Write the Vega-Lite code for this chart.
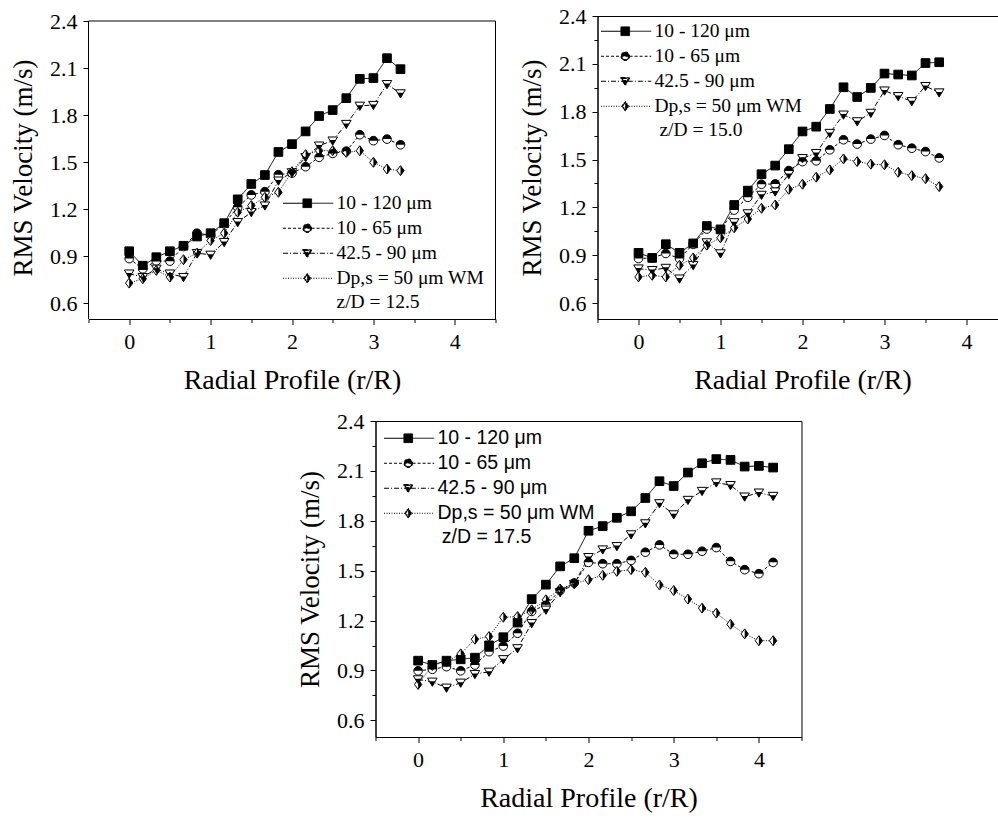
{
"$schema": "https://vega.github.io/schema/vega-lite/v6.json",
"background": "white",
"padding": {"left": 9.5, "top": 4, "right": 0, "bottom": 0},
"datasets": {
"d1": [
{"s":"10 - 120 μm","x":0,"v":0.932},{"s":"10 - 120 μm","x":0.167,"v":0.84},{"s":"10 - 120 μm","x":0.333,"v":0.894},{"s":"10 - 120 μm","x":0.5,"v":0.932},{"s":"10 - 120 μm","x":0.667,"v":0.967},{"s":"10 - 120 μm","x":0.833,"v":1.026},{"s":"10 - 120 μm","x":1,"v":1.047},{"s":"10 - 120 μm","x":1.167,"v":1.111},{"s":"10 - 120 μm","x":1.333,"v":1.263},{"s":"10 - 120 μm","x":1.5,"v":1.361},{"s":"10 - 120 μm","x":1.667,"v":1.418},{"s":"10 - 120 μm","x":1.833,"v":1.565},{"s":"10 - 120 μm","x":2,"v":1.615},{"s":"10 - 120 μm","x":2.167,"v":1.696},{"s":"10 - 120 μm","x":2.333,"v":1.794},{"s":"10 - 120 μm","x":2.5,"v":1.832},{"s":"10 - 120 μm","x":2.667,"v":1.908},{"s":"10 - 120 μm","x":2.833,"v":2.031},{"s":"10 - 120 μm","x":3,"v":2.036},{"s":"10 - 120 μm","x":3.167,"v":2.163},{"s":"10 - 120 μm","x":3.333,"v":2.093},
{"s":"10 - 65 μm","x":0,"v":0.885},{"s":"10 - 65 μm","x":0.167,"v":0.82},{"s":"10 - 65 μm","x":0.333,"v":0.87},{"s":"10 - 65 μm","x":0.5,"v":0.869},{"s":"10 - 65 μm","x":0.667,"v":0.962},{"s":"10 - 65 μm","x":0.833,"v":1.047},{"s":"10 - 65 μm","x":1,"v":1.035},{"s":"10 - 65 μm","x":1.167,"v":1.107},{"s":"10 - 65 μm","x":1.333,"v":1.213},{"s":"10 - 65 μm","x":1.5,"v":1.291},{"s":"10 - 65 μm","x":1.667,"v":1.312},{"s":"10 - 65 μm","x":1.833,"v":1.42},{"s":"10 - 65 μm","x":2,"v":1.43},{"s":"10 - 65 μm","x":2.167,"v":1.471},{"s":"10 - 65 μm","x":2.333,"v":1.531},{"s":"10 - 65 μm","x":2.5,"v":1.556},{"s":"10 - 65 μm","x":2.667,"v":1.57},{"s":"10 - 65 μm","x":2.833,"v":1.675},{"s":"10 - 65 μm","x":3,"v":1.637},{"s":"10 - 65 μm","x":3.167,"v":1.647},{"s":"10 - 65 μm","x":3.333,"v":1.611},
{"s":"42.5 - 90 μm","x":0,"v":0.789},{"s":"42.5 - 90 μm","x":0.167,"v":0.767},{"s":"42.5 - 90 μm","x":0.333,"v":0.82},{"s":"42.5 - 90 μm","x":0.5,"v":0.789},{"s":"42.5 - 90 μm","x":0.667,"v":0.767},{"s":"42.5 - 90 μm","x":0.833,"v":0.92},{"s":"42.5 - 90 μm","x":1,"v":0.909},{"s":"42.5 - 90 μm","x":1.167,"v":0.99},{"s":"42.5 - 90 μm","x":1.333,"v":1.117},{"s":"42.5 - 90 μm","x":1.5,"v":1.181},{"s":"42.5 - 90 μm","x":1.667,"v":1.223},{"s":"42.5 - 90 μm","x":1.833,"v":1.382},{"s":"42.5 - 90 μm","x":2,"v":1.435},{"s":"42.5 - 90 μm","x":2.167,"v":1.531},{"s":"42.5 - 90 μm","x":2.333,"v":1.605},{"s":"42.5 - 90 μm","x":2.5,"v":1.637},{"s":"42.5 - 90 μm","x":2.667,"v":1.743},{"s":"42.5 - 90 μm","x":2.833,"v":1.859},{"s":"42.5 - 90 μm","x":3,"v":1.864},{"s":"42.5 - 90 μm","x":3.167,"v":1.997},{"s":"42.5 - 90 μm","x":3.333,"v":1.938},
{"s":"Dp,s = 50 μm WM","x":0,"v":0.729},{"s":"Dp,s = 50 μm WM","x":0.167,"v":0.757},{"s":"Dp,s = 50 μm WM","x":0.333,"v":0.81},{"s":"Dp,s = 50 μm WM","x":0.5,"v":0.767},{"s":"Dp,s = 50 μm WM","x":0.667,"v":0.878},{"s":"Dp,s = 50 μm WM","x":0.833,"v":0.92},{"s":"Dp,s = 50 μm WM","x":1,"v":1.0},{"s":"Dp,s = 50 μm WM","x":1.167,"v":1.047},{"s":"Dp,s = 50 μm WM","x":1.333,"v":1.181},{"s":"Dp,s = 50 μm WM","x":1.5,"v":1.223},{"s":"Dp,s = 50 μm WM","x":1.667,"v":1.276},{"s":"Dp,s = 50 μm WM","x":1.833,"v":1.308},{"s":"Dp,s = 50 μm WM","x":2,"v":1.439},{"s":"Dp,s = 50 μm WM","x":2.167,"v":1.548},{"s":"Dp,s = 50 μm WM","x":2.333,"v":1.573},{"s":"Dp,s = 50 μm WM","x":2.5,"v":1.573},{"s":"Dp,s = 50 μm WM","x":2.667,"v":1.562},{"s":"Dp,s = 50 μm WM","x":2.833,"v":1.573},{"s":"Dp,s = 50 μm WM","x":3,"v":1.499},{"s":"Dp,s = 50 μm WM","x":3.167,"v":1.456},{"s":"Dp,s = 50 μm WM","x":3.333,"v":1.446}
],
"d2": [
{"s":"10 - 120 μm","x":0,"v":0.915},{"s":"10 - 120 μm","x":0.167,"v":0.883},{"s":"10 - 120 μm","x":0.333,"v":0.969},{"s":"10 - 120 μm","x":0.5,"v":0.915},{"s":"10 - 120 μm","x":0.667,"v":0.974},{"s":"10 - 120 μm","x":0.833,"v":1.083},{"s":"10 - 120 μm","x":1,"v":1.062},{"s":"10 - 120 μm","x":1.167,"v":1.215},{"s":"10 - 120 μm","x":1.333,"v":1.305},{"s":"10 - 120 μm","x":1.5,"v":1.408},{"s":"10 - 120 μm","x":1.667,"v":1.462},{"s":"10 - 120 μm","x":1.833,"v":1.565},{"s":"10 - 120 μm","x":2,"v":1.676},{"s":"10 - 120 μm","x":2.167,"v":1.706},{"s":"10 - 120 μm","x":2.333,"v":1.817},{"s":"10 - 120 μm","x":2.5,"v":1.953},{"s":"10 - 120 μm","x":2.667,"v":1.892},{"s":"10 - 120 μm","x":2.833,"v":1.949},{"s":"10 - 120 μm","x":3,"v":2.039},{"s":"10 - 120 μm","x":3.167,"v":2.033},{"s":"10 - 120 μm","x":3.333,"v":2.027},{"s":"10 - 120 μm","x":3.5,"v":2.105},{"s":"10 - 120 μm","x":3.667,"v":2.11},
{"s":"10 - 65 μm","x":0,"v":0.879},{"s":"10 - 65 μm","x":0.167,"v":0.883},{"s":"10 - 65 μm","x":0.333,"v":0.911},{"s":"10 - 65 μm","x":0.5,"v":0.879},{"s":"10 - 65 μm","x":0.667,"v":0.969},{"s":"10 - 65 μm","x":0.833,"v":1.064},{"s":"10 - 65 μm","x":1,"v":1.058},{"s":"10 - 65 μm","x":1.167,"v":1.183},{"s":"10 - 65 μm","x":1.333,"v":1.263},{"s":"10 - 65 μm","x":1.5,"v":1.345},{"s":"10 - 65 μm","x":1.667,"v":1.347},{"s":"10 - 65 μm","x":1.833,"v":1.431},{"s":"10 - 65 μm","x":2,"v":1.487},{"s":"10 - 65 μm","x":2.167,"v":1.492},{"s":"10 - 65 μm","x":2.333,"v":1.561},{"s":"10 - 65 μm","x":2.5,"v":1.624},{"s":"10 - 65 μm","x":2.667,"v":1.597},{"s":"10 - 65 μm","x":2.833,"v":1.628},{"s":"10 - 65 μm","x":3,"v":1.651},{"s":"10 - 65 μm","x":3.167,"v":1.593},{"s":"10 - 65 μm","x":3.333,"v":1.571},{"s":"10 - 65 μm","x":3.5,"v":1.55},{"s":"10 - 65 μm","x":3.667,"v":1.51},
{"s":"42.5 - 90 μm","x":0,"v":0.816},{"s":"42.5 - 90 μm","x":0.167,"v":0.806},{"s":"42.5 - 90 μm","x":0.333,"v":0.82},{"s":"42.5 - 90 μm","x":0.5,"v":0.753},{"s":"42.5 - 90 μm","x":0.667,"v":0.837},{"s":"42.5 - 90 μm","x":0.833,"v":0.98},{"s":"42.5 - 90 μm","x":1,"v":0.911},{"s":"42.5 - 90 μm","x":1.167,"v":1.106},{"s":"42.5 - 90 μm","x":1.333,"v":1.162},{"s":"42.5 - 90 μm","x":1.5,"v":1.278},{"s":"42.5 - 90 μm","x":1.667,"v":1.299},{"s":"42.5 - 90 μm","x":1.833,"v":1.408},{"s":"42.5 - 90 μm","x":2,"v":1.508},{"s":"42.5 - 90 μm","x":2.167,"v":1.54},{"s":"42.5 - 90 μm","x":2.333,"v":1.666},{"s":"42.5 - 90 μm","x":2.5,"v":1.781},{"s":"42.5 - 90 μm","x":2.667,"v":1.739},{"s":"42.5 - 90 μm","x":2.833,"v":1.792},{"s":"42.5 - 90 μm","x":3,"v":1.932},{"s":"42.5 - 90 μm","x":3.167,"v":1.897},{"s":"42.5 - 90 μm","x":3.333,"v":1.865},{"s":"42.5 - 90 μm","x":3.5,"v":1.96},{"s":"42.5 - 90 μm","x":3.667,"v":1.92},
{"s":"Dp,s = 50 μm WM","x":0,"v":0.764},{"s":"Dp,s = 50 μm WM","x":0.167,"v":0.774},{"s":"Dp,s = 50 μm WM","x":0.333,"v":0.764},{"s":"Dp,s = 50 μm WM","x":0.5,"v":0.837},{"s":"Dp,s = 50 μm WM","x":0.667,"v":0.883},{"s":"Dp,s = 50 μm WM","x":0.833,"v":0.963},{"s":"Dp,s = 50 μm WM","x":1,"v":1.009},{"s":"Dp,s = 50 μm WM","x":1.167,"v":1.072},{"s":"Dp,s = 50 μm WM","x":1.333,"v":1.127},{"s":"Dp,s = 50 μm WM","x":1.5,"v":1.194},{"s":"Dp,s = 50 μm WM","x":1.667,"v":1.215},{"s":"Dp,s = 50 μm WM","x":1.833,"v":1.313},{"s":"Dp,s = 50 μm WM","x":2,"v":1.345},{"s":"Dp,s = 50 μm WM","x":2.167,"v":1.389},{"s":"Dp,s = 50 μm WM","x":2.333,"v":1.435},{"s":"Dp,s = 50 μm WM","x":2.5,"v":1.504},{"s":"Dp,s = 50 μm WM","x":2.667,"v":1.487},{"s":"Dp,s = 50 μm WM","x":2.833,"v":1.471},{"s":"Dp,s = 50 μm WM","x":3,"v":1.467},{"s":"Dp,s = 50 μm WM","x":3.167,"v":1.42},{"s":"Dp,s = 50 μm WM","x":3.333,"v":1.399},{"s":"Dp,s = 50 μm WM","x":3.5,"v":1.38},{"s":"Dp,s = 50 μm WM","x":3.667,"v":1.33}
],
"d3": [
{"s":"10 - 120 μm","x":0,"v":0.959},{"s":"10 - 120 μm","x":0.167,"v":0.933},{"s":"10 - 120 μm","x":0.333,"v":0.959},{"s":"10 - 120 μm","x":0.5,"v":0.967},{"s":"10 - 120 μm","x":0.667,"v":0.977},{"s":"10 - 120 μm","x":0.833,"v":1.051},{"s":"10 - 120 μm","x":1,"v":1.1},{"s":"10 - 120 μm","x":1.167,"v":1.188},{"s":"10 - 120 μm","x":1.333,"v":1.329},{"s":"10 - 120 μm","x":1.5,"v":1.416},{"s":"10 - 120 μm","x":1.667,"v":1.526},{"s":"10 - 120 μm","x":1.833,"v":1.575},{"s":"10 - 120 μm","x":2,"v":1.74},{"s":"10 - 120 μm","x":2.167,"v":1.768},{"s":"10 - 120 μm","x":2.333,"v":1.818},{"s":"10 - 120 μm","x":2.5,"v":1.857},{"s":"10 - 120 μm","x":2.667,"v":1.937},{"s":"10 - 120 μm","x":2.833,"v":2.038},{"s":"10 - 120 μm","x":3,"v":2.009},{"s":"10 - 120 μm","x":3.167,"v":2.09},{"s":"10 - 120 μm","x":3.333,"v":2.146},{"s":"10 - 120 μm","x":3.5,"v":2.171},{"s":"10 - 120 μm","x":3.667,"v":2.166},{"s":"10 - 120 μm","x":3.833,"v":2.126},{"s":"10 - 120 μm","x":4,"v":2.13},{"s":"10 - 120 μm","x":4.167,"v":2.12},
{"s":"10 - 65 μm","x":0,"v":0.898},{"s":"10 - 65 μm","x":0.167,"v":0.907},{"s":"10 - 65 μm","x":0.333,"v":0.923},{"s":"10 - 65 μm","x":0.5,"v":0.898},{"s":"10 - 65 μm","x":0.667,"v":0.933},{"s":"10 - 65 μm","x":0.833,"v":1.013},{"s":"10 - 65 μm","x":1,"v":1.047},{"s":"10 - 65 μm","x":1.167,"v":1.124},{"s":"10 - 65 μm","x":1.333,"v":1.255},{"s":"10 - 65 μm","x":1.5,"v":1.295},{"s":"10 - 65 μm","x":1.667,"v":1.381},{"s":"10 - 65 μm","x":1.833,"v":1.426},{"s":"10 - 65 μm","x":2,"v":1.55},{"s":"10 - 65 μm","x":2.167,"v":1.542},{"s":"10 - 65 μm","x":2.333,"v":1.542},{"s":"10 - 65 μm","x":2.5,"v":1.562},{"s":"10 - 65 μm","x":2.667,"v":1.611},{"s":"10 - 65 μm","x":2.833,"v":1.655},{"s":"10 - 65 μm","x":3,"v":1.599},{"s":"10 - 65 μm","x":3.167,"v":1.599},{"s":"10 - 65 μm","x":3.333,"v":1.617},{"s":"10 - 65 μm","x":3.5,"v":1.639},{"s":"10 - 65 μm","x":3.667,"v":1.556},{"s":"10 - 65 μm","x":3.833,"v":1.506},{"s":"10 - 65 μm","x":4,"v":1.482},{"s":"10 - 65 μm","x":4.167,"v":1.55},
{"s":"42.5 - 90 μm","x":0,"v":0.846},{"s":"42.5 - 90 μm","x":0.167,"v":0.832},{"s":"42.5 - 90 μm","x":0.333,"v":0.796},{"s":"42.5 - 90 μm","x":0.5,"v":0.826},{"s":"42.5 - 90 μm","x":0.667,"v":0.878},{"s":"42.5 - 90 μm","x":0.833,"v":0.892},{"s":"42.5 - 90 μm","x":1,"v":0.967},{"s":"42.5 - 90 μm","x":1.167,"v":1.033},{"s":"42.5 - 90 μm","x":1.333,"v":1.184},{"s":"42.5 - 90 μm","x":1.5,"v":1.265},{"s":"42.5 - 90 μm","x":1.667,"v":1.37},{"s":"42.5 - 90 μm","x":1.833,"v":1.42},{"s":"42.5 - 90 μm","x":2,"v":1.581},{"s":"42.5 - 90 μm","x":2.167,"v":1.627},{"s":"42.5 - 90 μm","x":2.333,"v":1.647},{"s":"42.5 - 90 μm","x":2.5,"v":1.718},{"s":"42.5 - 90 μm","x":2.667,"v":1.784},{"s":"42.5 - 90 μm","x":2.833,"v":1.905},{"s":"42.5 - 90 μm","x":3,"v":1.838},{"s":"42.5 - 90 μm","x":3.167,"v":1.925},{"s":"42.5 - 90 μm","x":3.333,"v":1.979},{"s":"42.5 - 90 μm","x":3.5,"v":2.03},{"s":"42.5 - 90 μm","x":3.667,"v":2.014},{"s":"42.5 - 90 μm","x":3.833,"v":1.945},{"s":"42.5 - 90 μm","x":4,"v":1.969},{"s":"42.5 - 90 μm","x":4.167,"v":1.949},
{"s":"Dp,s = 50 μm WM","x":0,"v":0.816},{"s":"Dp,s = 50 μm WM","x":0.167,"v":0.93},{"s":"Dp,s = 50 μm WM","x":0.333,"v":0.953},{"s":"Dp,s = 50 μm WM","x":0.5,"v":1.0},{"s":"Dp,s = 50 μm WM","x":0.667,"v":1.088},{"s":"Dp,s = 50 μm WM","x":0.833,"v":1.104},{"s":"Dp,s = 50 μm WM","x":1,"v":1.22},{"s":"Dp,s = 50 μm WM","x":1.167,"v":1.224},{"s":"Dp,s = 50 μm WM","x":1.333,"v":1.265},{"s":"Dp,s = 50 μm WM","x":1.5,"v":1.325},{"s":"Dp,s = 50 μm WM","x":1.667,"v":1.39},{"s":"Dp,s = 50 μm WM","x":1.833,"v":1.422},{"s":"Dp,s = 50 μm WM","x":2,"v":1.446},{"s":"Dp,s = 50 μm WM","x":2.167,"v":1.472},{"s":"Dp,s = 50 μm WM","x":2.333,"v":1.496},{"s":"Dp,s = 50 μm WM","x":2.5,"v":1.506},{"s":"Dp,s = 50 μm WM","x":2.667,"v":1.49},{"s":"Dp,s = 50 μm WM","x":2.833,"v":1.414},{"s":"Dp,s = 50 μm WM","x":3,"v":1.381},{"s":"Dp,s = 50 μm WM","x":3.167,"v":1.329},{"s":"Dp,s = 50 μm WM","x":3.333,"v":1.275},{"s":"Dp,s = 50 μm WM","x":3.5,"v":1.245},{"s":"Dp,s = 50 μm WM","x":3.667,"v":1.178},{"s":"Dp,s = 50 μm WM","x":3.833,"v":1.12},{"s":"Dp,s = 50 μm WM","x":4,"v":1.079},{"s":"Dp,s = 50 μm WM","x":4.167,"v":1.079}
],
"blank": [{"k": 0}]
},
"vconcat": [
{
"hconcat": [
{
"width": 407, "height": 303,
"view": {"stroke": null},
"data": {"name": "d1"},
"layer": [
{"data": {"values": [{"k": 0}]}, "mark": {"type": "rule", "color": "black", "strokeWidth": 1}, "encoding": {"x": {"datum": -0.5, "type": "quantitative"}, "x2": {"datum": 4.5}, "y": {"datum": 2.4, "type": "quantitative"}}},
{"data": {"values": [{"k": 0}]}, "mark": {"type": "rule", "color": "black", "strokeWidth": 1}, "encoding": {"x": {"datum": 4.5, "type": "quantitative"}, "y": {"datum": 0.5, "type": "quantitative"}, "y2": {"datum": 2.4}}},
{"data": {"values": [{"k": 0}]}, "mark": {"type": "rule", "color": "black", "strokeWidth": 1}, "encoding": {"x": {"datum": -0.5, "type": "quantitative"}, "y": {"datum": 0.5, "type": "quantitative"}, "y2": {"datum": 2.4}}},
{"mark": {"type": "line", "color": "black", "strokeWidth": 1}, "encoding": {
"x": {"field": "x", "type": "quantitative"}, "y": {"field": "v", "type": "quantitative"},
"strokeDash": {"field": "s", "type": "nominal", "scale": {"domain": ["10 - 120 μm","10 - 65 μm","42.5 - 90 μm","Dp,s = 50 μm WM"], "range": [[1,0],[3,2],[5,2,1,2],[1,1.5]]}, "legend": {"legendX": 209, "legendY": 177.5, "title": "\u200b\u00a0\u00a0\u00a0\u00a0\u00a0\u00a0\u00a0\u00a0z/D = 12.5", "symbolType": "M-5.6,0H6", "symbolStrokeColor": "black", "symbolStrokeWidth": 1,
"encode": {"symbols": {"update": {"fill": {"value": "black"}, "stroke": {"value": "black"}, "strokeWidth": {"value": 1}, "shape": {"signal": "datum.index === 0 ? 'M-5.6,0H-1M1,0H6M-1,-1H1V1H-1Z' : datum.index === 1 ? 'M-5.6,0H-1M1,0H6M1,0A1,1,0,1,1,-1,0A1,1,0,1,1,1,0ZM0.77,0L-0.77,0A0.77,0.77,0,0,0,0.77,0Z' : datum.index === 2 ? 'M-5.6,0H-0.6M0.6,0H6M-1.1,-0.85H1.1L0,1.05ZM-0.7,-0.62L-0.43,-0.15L0.43,-0.15L0.7,-0.62Z' : 'M-5.6,0H-0.85M0.85,0H6M0,-1.15L0.85,0L0,1.15L-0.85,0ZM0,-0.763L-0.564,0L0,0.763Z'"}}}}}}}},
{"mark": {"type": "point", "filled": true, "fill": "white", "stroke": "black", "strokeWidth": 1, "size": 75, "opacity": 1}, "encoding": {
"x": {"field": "x", "type": "quantitative"}, "y": {"field": "v", "type": "quantitative"},
"shape": {"field": "s", "type": "nominal", "scale": {"domain": ["Dp,s = 50 μm WM","42.5 - 90 μm","10 - 65 μm","10 - 120 μm"], "range": ["M0,-1.15L0.85,0L0,1.15L-0.85,0Z","M-1.1,-0.85H1.1L0,1.05Z","M1,0A1,1,0,1,1,-1,0A1,1,0,1,1,1,0Z","M-1,-1H1V1H-1Z"]}, "legend": null}}},
{"mark": {"type": "point", "filled": true, "fill": "black", "strokeWidth": 0, "size": 75, "opacity": 1}, "encoding": {
"x": {"field": "x", "type": "quantitative", "scale": {"domain": [-0.5, 4.5], "nice": false, "zero": false}, "axis": {"title": "Radial Profile (r/R)", "values": [-0.5,0,0.5,1,1.5,2,2.5,3,3.5,4,4.5], "labelExpr": "datum.value % 1 == 0 ? format(datum.value, 'd') : ''", "tickSize": {"condition": {"test": "datum.value % 1 != 0", "value": 3.5}, "value": 5.5}}},
"y": {"field": "v", "type": "quantitative", "scale": {"domain": [0.5, 2.4319], "nice": false, "zero": false}, "axis": {"title": "RMS Velocity (m/s)", "domain": false, "values": [0.6,0.75,0.9,1.05,1.2,1.35,1.5,1.65,1.8,1.95,2.1,2.25,2.4], "labelExpr": "round(datum.value*10) % 3 == 0 ? format(datum.value, '.1f') : ''", "tickSize": {"condition": {"test": "round(datum.value*10) % 3 != 0", "value": 3.5}, "value": 5.5}}},
"shape": {"field": "s", "type": "nominal", "scale": {"domain": ["10 - 120 μm","10 - 65 μm","42.5 - 90 μm","Dp,s = 50 μm WM"], "range": ["M-1,-1H1V1H-1Z","M-1,0A1,1,0,0,1,1,0Z","M-0.695,-0.15H0.695L0,1.05Z","M0,-1.15L0.85,0L0,1.15Z"]}, "legend": null}}}
],
"resolve": {"scale": {"shape": "independent"}, "legend": {"shape": "independent"}}
},
{
"width": 410, "height": 303,
"data": {"name": "d2"},
"encoding": {
"x": {"field": "x", "type": "quantitative", "scale": {"domain": [-0.5, 4.5], "nice": false, "zero": false}, "axis": {"title": "Radial Profile (r/R)", "values": [-0.5,0,0.5,1,1.5,2,2.5,3,3.5,4,4.5], "labelExpr": "datum.value % 1 == 0 ? format(datum.value, 'd') : ''", "tickSize": {"condition": {"test": "datum.value % 1 != 0", "value": 3.5}, "value": 5.5}}},
"y": {"field": "v", "type": "quantitative", "scale": {"domain": [0.5, 2.4], "nice": false, "zero": false}, "axis": {"title": "RMS Velocity (m/s)", "values": [0.6,0.75,0.9,1.05,1.2,1.35,1.5,1.65,1.8,1.95,2.1,2.25,2.4], "labelExpr": "round(datum.value*10) % 3 == 0 ? format(datum.value, '.1f') : ''", "tickSize": {"condition": {"test": "round(datum.value*10) % 3 != 0", "value": 3.5}, "value": 5.5}}}
},
"layer": [
{"mark": {"type": "line", "color": "black", "strokeWidth": 1}, "encoding": {"strokeDash": {"field": "s", "type": "nominal", "scale": {"domain": ["10 - 120 μm","10 - 65 μm","42.5 - 90 μm","Dp,s = 50 μm WM"], "range": [[1,0],[3,2],[5,2,1,2],[1,1.5]]}, "legend": {"legendX": 18, "legendY": 5.5, "title": "\u200b\u00a0\u00a0\u00a0\u00a0\u00a0\u00a0\u00a0\u00a0\u00a0z/D = 15.0", "symbolType": "M-5.6,0H6", "symbolStrokeColor": "black", "symbolStrokeWidth": 1,
"encode": {"symbols": {"update": {"fill": {"value": "black"}, "stroke": {"value": "black"}, "strokeWidth": {"value": 1}, "shape": {"signal": "datum.index === 0 ? 'M-5.6,0H-1M1,0H6M-1,-1H1V1H-1Z' : datum.index === 1 ? 'M-5.6,0H-1M1,0H6M1,0A1,1,0,1,1,-1,0A1,1,0,1,1,1,0ZM0.77,0L-0.77,0A0.77,0.77,0,0,0,0.77,0Z' : datum.index === 2 ? 'M-5.6,0H-0.6M0.6,0H6M-1.1,-0.85H1.1L0,1.05ZM-0.7,-0.62L-0.43,-0.15L0.43,-0.15L0.7,-0.62Z' : 'M-5.6,0H-0.85M0.85,0H6M0,-1.15L0.85,0L0,1.15L-0.85,0ZM0,-0.763L-0.564,0L0,0.763Z'"}}}}}}}},
{"mark": {"type": "point", "filled": true, "fill": "white", "stroke": "black", "strokeWidth": 1, "size": 75, "opacity": 1}, "encoding": {"shape": {"field": "s", "type": "nominal", "scale": {"domain": ["Dp,s = 50 μm WM","42.5 - 90 μm","10 - 65 μm","10 - 120 μm"], "range": ["M0,-1.15L0.85,0L0,1.15L-0.85,0Z","M-1.1,-0.85H1.1L0,1.05Z","M1,0A1,1,0,1,1,-1,0A1,1,0,1,1,1,0Z","M-1,-1H1V1H-1Z"]}, "legend": null}}},
{"mark": {"type": "point", "filled": true, "fill": "black", "strokeWidth": 0, "size": 75, "opacity": 1}, "encoding": {"shape": {"field": "s", "type": "nominal", "scale": {"domain": ["10 - 120 μm","10 - 65 μm","42.5 - 90 μm","Dp,s = 50 μm WM"], "range": ["M-1,-1H1V1H-1Z","M-1,0A1,1,0,0,1,1,0Z","M-0.695,-0.15H0.695L0,1.05Z","M0,-1.15L0.85,0L0,1.15Z"]}, "legend": null}}}
],
"resolve": {"scale": {"shape": "independent"}, "legend": {"shape": "independent"}}
}
],
"spacing": 21,
"resolve": {"scale": {"strokeDash": "independent", "shape": "independent"}, "legend": {"strokeDash": "independent", "shape": "independent"}}
},
{
"hconcat": [
{"width": 207, "height": 10, "data": {"name": "blank"}, "mark": {"type": "point", "opacity": 0}, "encoding": {}, "view": {"stroke": null}},
{
"width": 426, "height": 316,
"data": {"name": "d3"},
"encoding": {
"x": {"field": "x", "type": "quantitative", "scale": {"domain": [-0.5, 4.5], "nice": false, "zero": false}, "axis": {"title": "Radial Profile (r/R)", "values": [-0.5,0,0.5,1,1.5,2,2.5,3,3.5,4,4.5], "labelExpr": "datum.value % 1 == 0 ? format(datum.value, 'd') : ''", "tickSize": {"condition": {"test": "datum.value % 1 != 0", "value": 3.5}, "value": 5.5}}},
"y": {"field": "v", "type": "quantitative", "scale": {"domain": [0.5, 2.4], "nice": false, "zero": false}, "axis": {"title": "RMS Velocity (m/s)", "values": [0.6,0.75,0.9,1.05,1.2,1.35,1.5,1.65,1.8,1.95,2.1,2.25,2.4], "labelExpr": "round(datum.value*10) % 3 == 0 ? format(datum.value, '.1f') : ''", "tickSize": {"condition": {"test": "round(datum.value*10) % 3 != 0", "value": 3.5}, "value": 5.5}}}
},
"layer": [
{"mark": {"type": "line", "color": "black", "strokeWidth": 1}, "encoding": {"strokeDash": {"field": "s", "type": "nominal", "scale": {"domain": ["10 - 120 μm","10 - 65 μm","42.5 - 90 μm","Dp,s = 50 μm WM"], "range": [[1,0],[3,2],[5,2,1,2],[1,1.5]]}, "legend": {"legendX": 23, "legendY": 7.5, "title": "\u200b\u00a0\u00a0\u00a0\u00a0\u00a0\u00a0\u00a0\u00a0z/D = 17.5", "labelFont": "Liberation Sans, Arial, sans-serif", "titleFont": "Liberation Sans, Arial, sans-serif", "symbolType": "M-5.6,0H6", "symbolStrokeColor": "black", "symbolStrokeWidth": 1,
"encode": {"symbols": {"update": {"fill": {"value": "black"}, "stroke": {"value": "black"}, "strokeWidth": {"value": 1}, "shape": {"signal": "datum.index === 0 ? 'M-5.6,0H-1M1,0H6M-1,-1H1V1H-1Z' : datum.index === 1 ? 'M-5.6,0H-1M1,0H6M1,0A1,1,0,1,1,-1,0A1,1,0,1,1,1,0ZM0.77,0L-0.77,0A0.77,0.77,0,0,0,0.77,0Z' : datum.index === 2 ? 'M-5.6,0H-0.6M0.6,0H6M-1.1,-0.85H1.1L0,1.05ZM-0.7,-0.62L-0.43,-0.15L0.43,-0.15L0.7,-0.62Z' : 'M-5.6,0H-0.85M0.85,0H6M0,-1.15L0.85,0L0,1.15L-0.85,0ZM0,-0.763L-0.564,0L0,0.763Z'"}}}}}}}},
{"mark": {"type": "point", "filled": true, "fill": "white", "stroke": "black", "strokeWidth": 1, "size": 75, "opacity": 1}, "encoding": {"shape": {"field": "s", "type": "nominal", "scale": {"domain": ["Dp,s = 50 μm WM","42.5 - 90 μm","10 - 65 μm","10 - 120 μm"], "range": ["M0,-1.15L0.85,0L0,1.15L-0.85,0Z","M-1.1,-0.85H1.1L0,1.05Z","M1,0A1,1,0,1,1,-1,0A1,1,0,1,1,1,0Z","M-1,-1H1V1H-1Z"]}, "legend": null}}},
{"mark": {"type": "point", "filled": true, "fill": "black", "strokeWidth": 0, "size": 75, "opacity": 1}, "encoding": {"shape": {"field": "s", "type": "nominal", "scale": {"domain": ["10 - 120 μm","10 - 65 μm","42.5 - 90 μm","Dp,s = 50 μm WM"], "range": ["M-1,-1H1V1H-1Z","M-1,0A1,1,0,0,1,1,0Z","M-0.695,-0.15H0.695L0,1.05Z","M0,-1.15L0.85,0L0,1.15Z"]}, "legend": null}}}
],
"resolve": {"scale": {"shape": "independent"}, "legend": {"shape": "independent"}}
}
],
"spacing": 0,
"resolve": {"scale": {"strokeDash": "independent", "shape": "independent"}, "legend": {"strokeDash": "independent", "shape": "independent"}}
}
],
"spacing": 14,
"resolve": {"scale": {"strokeDash": "independent", "shape": "independent"}, "legend": {"strokeDash": "independent", "shape": "independent"}},
"config": {
"font": "Liberation Serif, Times New Roman, serif",
"view": {"stroke": "black", "strokeWidth": 1},
"axis": {"grid": false, "domainColor": "black", "domainWidth": 1, "tickColor": "black", "tickWidth": 1, "labelColor": "black", "titleColor": "black", "labelFont": "Liberation Serif, Times New Roman, serif", "titleFont": "Liberation Serif, Times New Roman, serif", "labelFontSize": 22, "titleFontSize": 27, "titleFontWeight": "normal", "labelOverlap": false, "labelFlush": false, "labelBound": false},
"axisX": {"labelPadding": 7, "titlePadding": 14, "titleFontSize": 28},
"axisY": {"labelPadding": 6, "titlePadding": 12},
"legend": {"orient": "none", "direction": "vertical", "padding": 0, "labelFont": "Liberation Serif, Times New Roman, serif", "labelFontSize": 19.5, "labelColor": "black", "labelOffset": 19.5, "labelLimit": 400, "symbolSize": 75, "rowPadding": 4, "titleOrient": "bottom", "titleAnchor": "start", "titleFont": "Liberation Serif, Times New Roman, serif", "titleFontSize": 19.5, "titleFontWeight": "normal", "titleColor": "black", "titlePadding": 5, "titleLimit": 400}
}
}
